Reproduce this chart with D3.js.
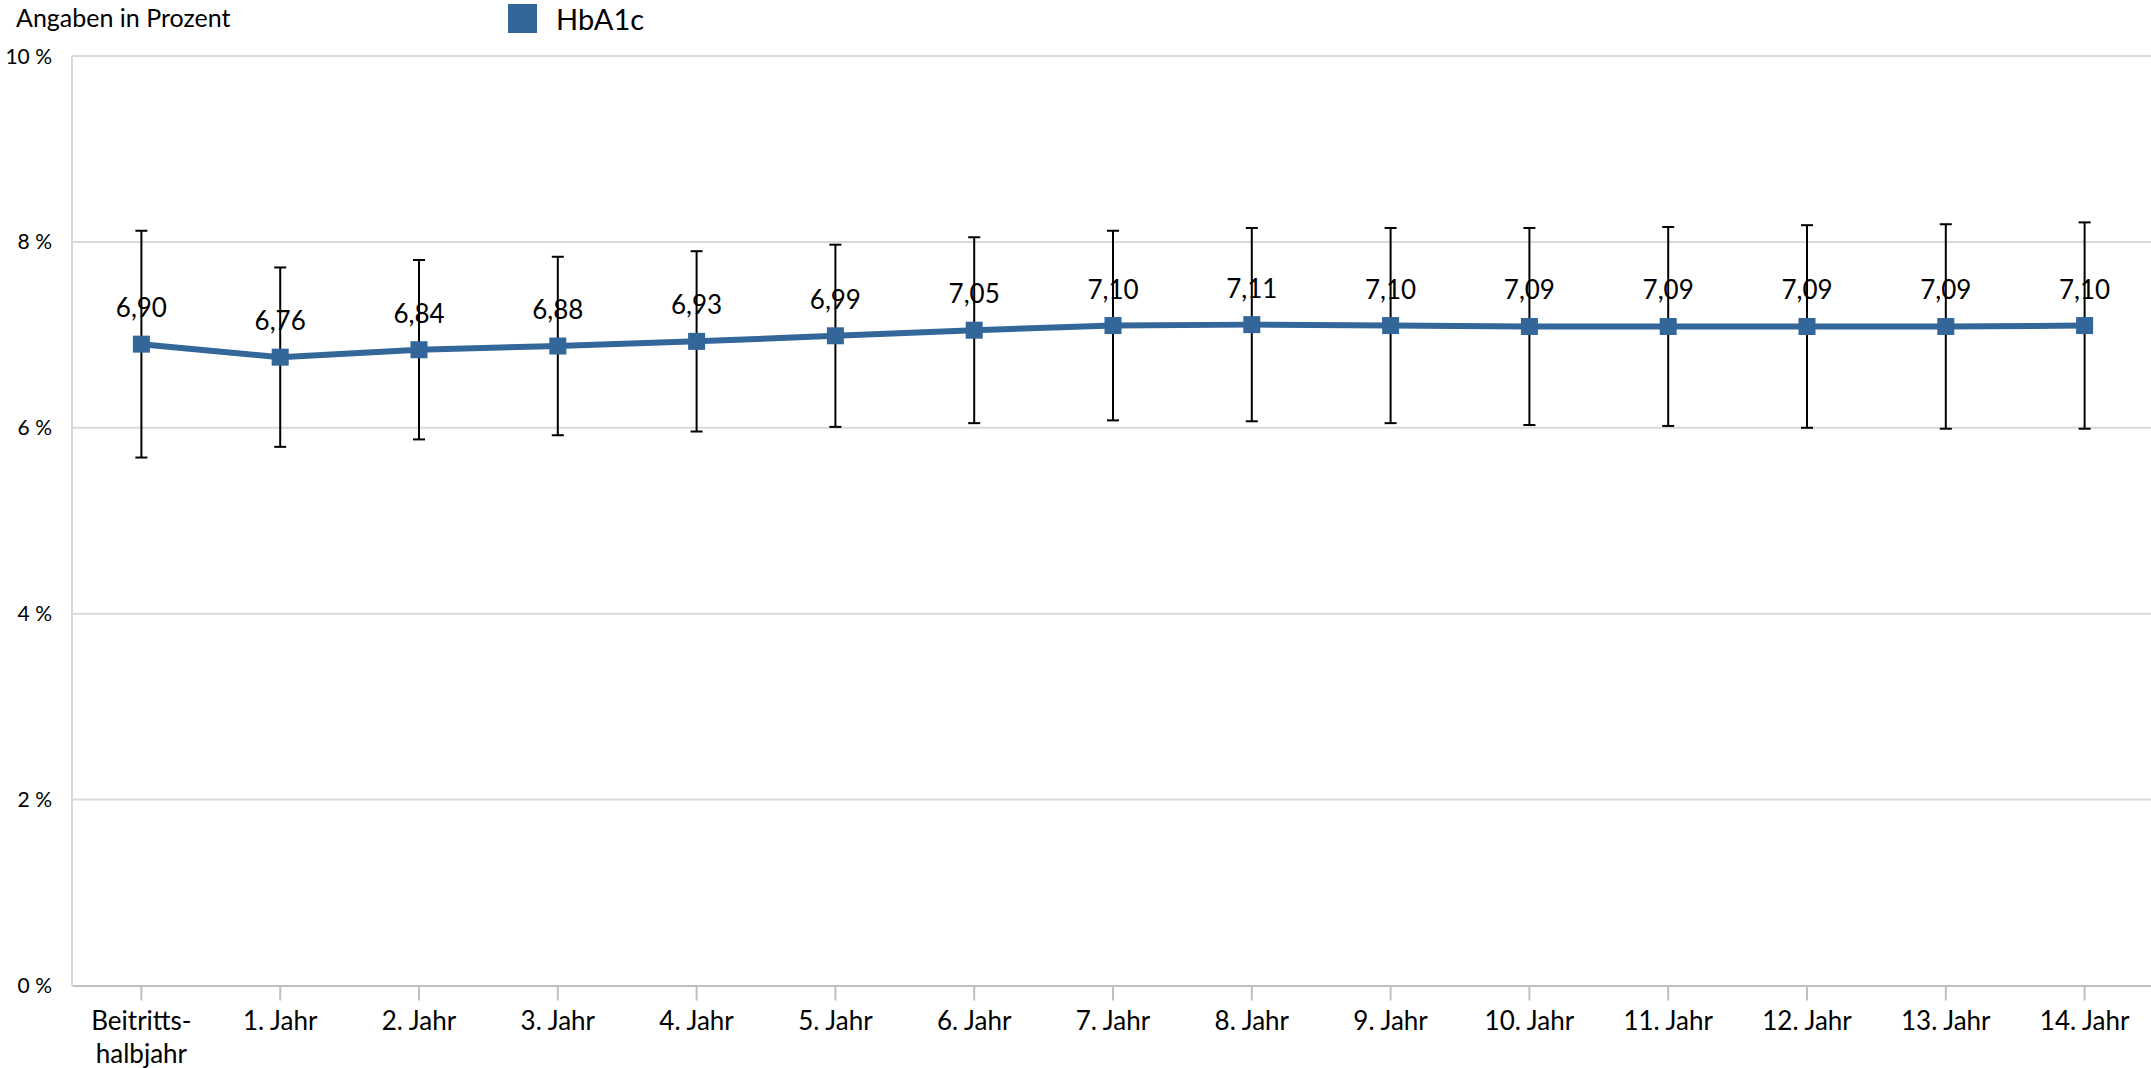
<!DOCTYPE html>
<html>
<head>
<meta charset="utf-8">
<script src="https://cdn.jsdelivr.net/npm/d3@7"></script>
<style>
  html, body { margin: 0; padding: 0; background: #fff; }
  svg { display: block; font-family: Lato, "Open Sans", sans-serif; }
</style>
</head>
<body>
<svg id="chart" width="2151" height="1068"></svg>
<script>
const categories = ["Beitritts-\nhalbjahr", "1. Jahr", "2. Jahr", "3. Jahr", "4. Jahr", "5. Jahr", "6. Jahr",
  "7. Jahr", "8. Jahr", "9. Jahr", "10. Jahr", "11. Jahr", "12. Jahr", "13. Jahr", "14. Jahr"];
const hba1c = [6.90, 6.76, 6.84, 6.88, 6.93, 6.99, 7.05, 7.10, 7.11, 7.10, 7.09, 7.09, 7.09, 7.09, 7.10];
const sd = [1.22, 0.965, 0.965, 0.96, 0.97, 0.98, 1.00, 1.02, 1.04, 1.05, 1.06, 1.07, 1.09, 1.10, 1.11];
const yTicks = [0, 2, 4, 6, 8, 10];
const seriesName = "HbA1c";
const yTitle = "Angaben in Prozent";

(function () {
const svg = d3.select("#chart");
const mLeft = 72, mRight = 2154, mTop = 56, mBottom = 985.5;
const blue = "#336699";

const x = d3.scaleBand().domain(categories).range([mLeft, mRight]).paddingInner(0).paddingOuter(0);
const y = d3.scaleLinear().domain([0, 10]).range([mBottom, mTop]);
const cx = c => x(c) + x.bandwidth() / 2;

// gridlines
svg.append("g").selectAll("line").data(yTicks.filter(t => t > 0)).join("line")
  .attr("x1", mLeft).attr("x2", mRight)
  .attr("y1", d => y(d)).attr("y2", d => y(d))
  .attr("stroke", "#d9d9d9").attr("stroke-width", 2);

// left axis line
svg.append("line").attr("x1", mLeft).attr("x2", mLeft).attr("y1", mTop).attr("y2", mBottom)
  .attr("stroke", "#d9d9d9").attr("stroke-width", 2);

// y labels
svg.append("g").selectAll("text").data(yTicks).join("text")
  .attr("x", 52).attr("y", d => y(d)).attr("dy", "0.36em")
  .attr("text-anchor", "end").attr("font-size", 21).attr("fill", "#000")
  .text(d => d + " %");

// x axis
const xAxis = d3.axisBottom(x).tickSize(15).tickSizeOuter(0).tickFormat("");
const gx = svg.append("g").attr("transform", `translate(0,${mBottom})`).call(xAxis);
gx.select(".domain").attr("stroke", "#bfbfbf").attr("stroke-width", 2);
gx.selectAll(".tick line").attr("stroke", "#bfbfbf").attr("stroke-width", 2);

const xl = svg.append("g").selectAll("text").data(categories).join("text")
  .attr("x", d => cx(d)).attr("y", 1030)
  .attr("text-anchor", "middle").attr("font-size", 26).attr("fill", "#000");
xl.each(function(d) {
  const lines = d.split("\n");
  const t = d3.select(this);
  lines.forEach((ln, i) => {
    t.append("tspan").attr("x", cx(d)).attr("dy", i === 0 ? 0 : 33).text(ln);
  });
});

// error bars
const eb = svg.append("g").attr("stroke", "#000").attr("stroke-width", 2);
categories.forEach((c, i) => {
  const hi = y(hba1c[i] + sd[i]), lo = y(hba1c[i] - sd[i]);
  eb.append("line").attr("x1", cx(c)).attr("x2", cx(c)).attr("y1", hi).attr("y2", lo);
  eb.append("line").attr("x1", cx(c) - 6).attr("x2", cx(c) + 6).attr("y1", hi).attr("y2", hi);
  eb.append("line").attr("x1", cx(c) - 6).attr("x2", cx(c) + 6).attr("y1", lo).attr("y2", lo);
});

// line
const line = d3.line().x((d, i) => cx(categories[i])).y(d => y(d));
svg.append("path").datum(hba1c).attr("d", line)
  .attr("fill", "none").attr("stroke", blue).attr("stroke-width", 6).attr("stroke-linejoin", "round");

// markers
const ms = 17;
svg.append("g").selectAll("rect").data(hba1c).join("rect")
  .attr("x", (d, i) => cx(categories[i]) - ms / 2).attr("y", d => y(d) - ms / 2)
  .attr("width", ms).attr("height", ms).attr("fill", blue);

// data labels
svg.append("g").selectAll("text").data(hba1c).join("text")
  .attr("x", (d, i) => cx(categories[i])).attr("y", d => y(d) - 27)
  .attr("text-anchor", "middle").attr("font-size", 26).attr("fill", "#000")
  .text(d => d.toFixed(2).replace(".", ","));

// title
svg.append("text").attr("x", 16).attr("y", 27).attr("font-size", 25).attr("fill", "#000").text(yTitle);

// legend
svg.append("rect").attr("x", 508).attr("y", 4).attr("width", 29).attr("height", 29).attr("fill", blue);
svg.append("text").attr("x", 556).attr("y", 30).attr("font-size", 29).attr("fill", "#000").text(seriesName);
})();
</script>
</body>
</html>
